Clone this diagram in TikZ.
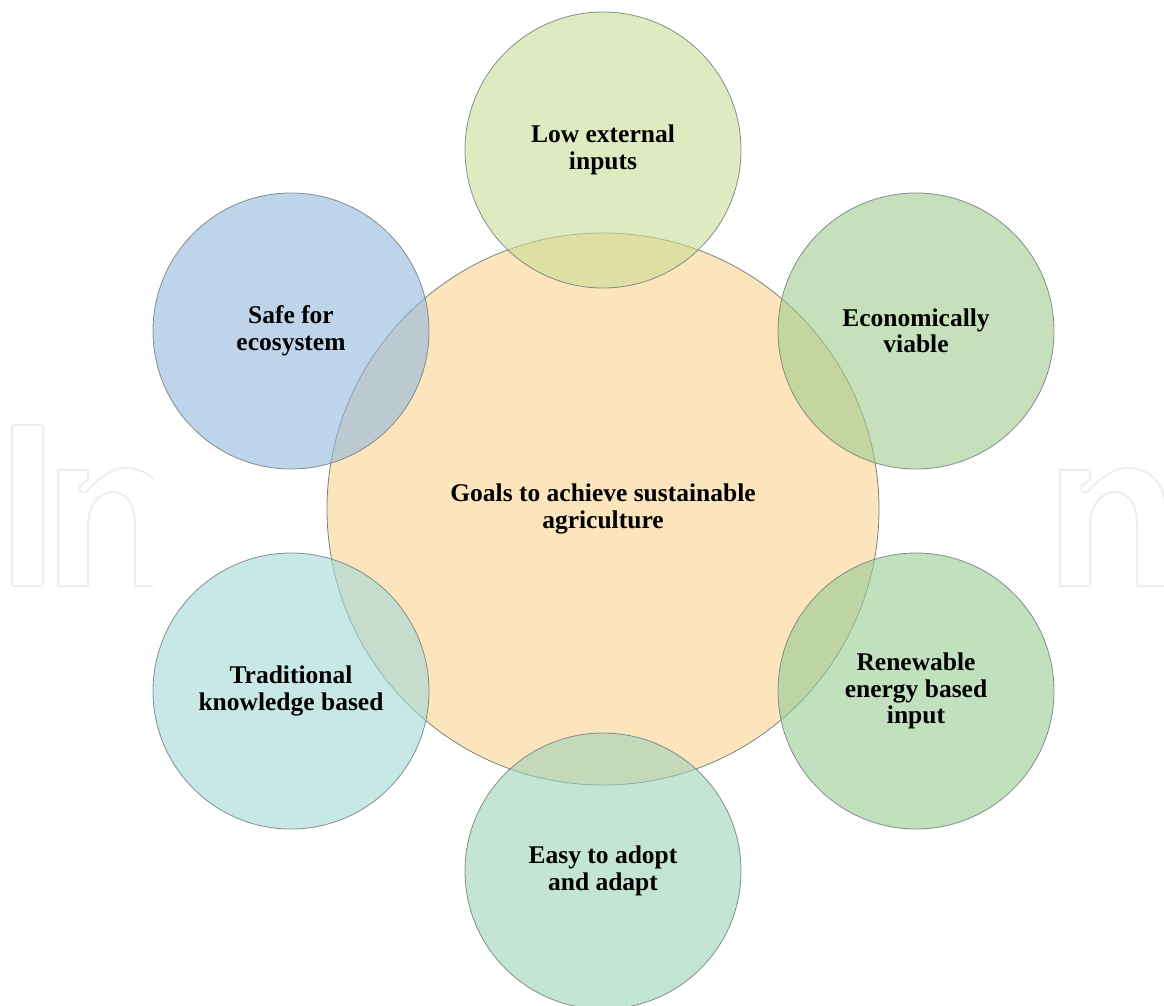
\documentclass[tikz,border=0pt]{standalone}
\usepackage{fontspec}
\setmainfont{Liberation Serif}
\definecolor{cOr}{RGB}{252,228,188}
\definecolor{cLow}{RGB}{203,220,150}
\definecolor{cSafe}{RGB}{147,183,222}
\definecolor{cEco}{RGB}{160,203,142}
\definecolor{cRen}{RGB}{150,203,147}
\definecolor{cEasy}{RGB}{157,210,183}
\definecolor{cTrad}{RGB}{163,217,217}
\definecolor{cLine}{RGB}{120,132,130}
\definecolor{cWm}{RGB}{236,237,237}
\begin{document}
\begin{tikzpicture}[x=1pt,y=-1pt,
  lbl/.style={font=\fontsize{25.5}{26.5}\selectfont\bfseries, align=center, text=black, text opacity=1},
  hub/.style={circle, inner sep=0pt, minimum size=552pt, fill=cOr, draw=cLine, line width=0.8pt, lbl},
  sat/.style={circle, inner sep=0pt, minimum size=276pt, fill=#1, fill opacity=0.6, draw=cLine, draw opacity=0.9, line width=0.8pt, lbl},
  wm/.style={draw=cWm, line width=2pt, line join=round}]
\useasboundingbox (0,0) rectangle (1164,1005);
% watermark
\draw[wm, rounded corners=2pt] (12,425) rectangle (43,586);
\begin{scope}
  \clip (0,0) rectangle (153,1005);
  \draw[wm] (58,586) -- (58,470) -- (88,470) -- (88,479) -- (80,486)
    .. controls (77,490) and (82,495) .. (87,491)
    .. controls (100,476) and (113,468) .. (125,468)
    .. controls (150,468) and (165,485) .. (165,520) -- (165,586) -- (135,586)
    -- (135,525) .. controls (135,505) and (127,492) .. (112,492)
    .. controls (100,492) and (88,505) .. (88,525) -- (88,586) -- cycle;
\end{scope}
\begin{scope}[xshift=1002pt]
  \draw[wm] (58,586) -- (58,470) -- (88,470) -- (88,479) -- (80,486)
    .. controls (77,490) and (82,495) .. (87,491)
    .. controls (100,476) and (113,468) .. (125,468)
    .. controls (150,468) and (165,485) .. (165,520) -- (165,586) -- (135,586)
    -- (135,525) .. controls (135,505) and (127,492) .. (112,492)
    .. controls (100,492) and (88,505) .. (88,525) -- (88,586) -- cycle;
\end{scope}
% hub
\node[hub] (goal) at (603,509) {Goals to achieve sustainable\\agriculture};
% satellites
\node[sat=cLow]  (low)  at (603,150) {Low external\\inputs};
\node[sat=cSafe] (safe) at (291,331) {Safe for\\ecosystem};
\node[sat=cEco]  (eco)  at (916,331) {Economically\\viable};
\node[sat=cTrad] (trad) at (291,691) {Traditional\\knowledge based};
\node[sat=cRen]  (ren)  at (916,691) {Renewable\\energy based\\input};
\node[sat=cEasy] (easy) at (603,871) {Easy to adopt\\and adapt};
\end{tikzpicture}
\end{document}
